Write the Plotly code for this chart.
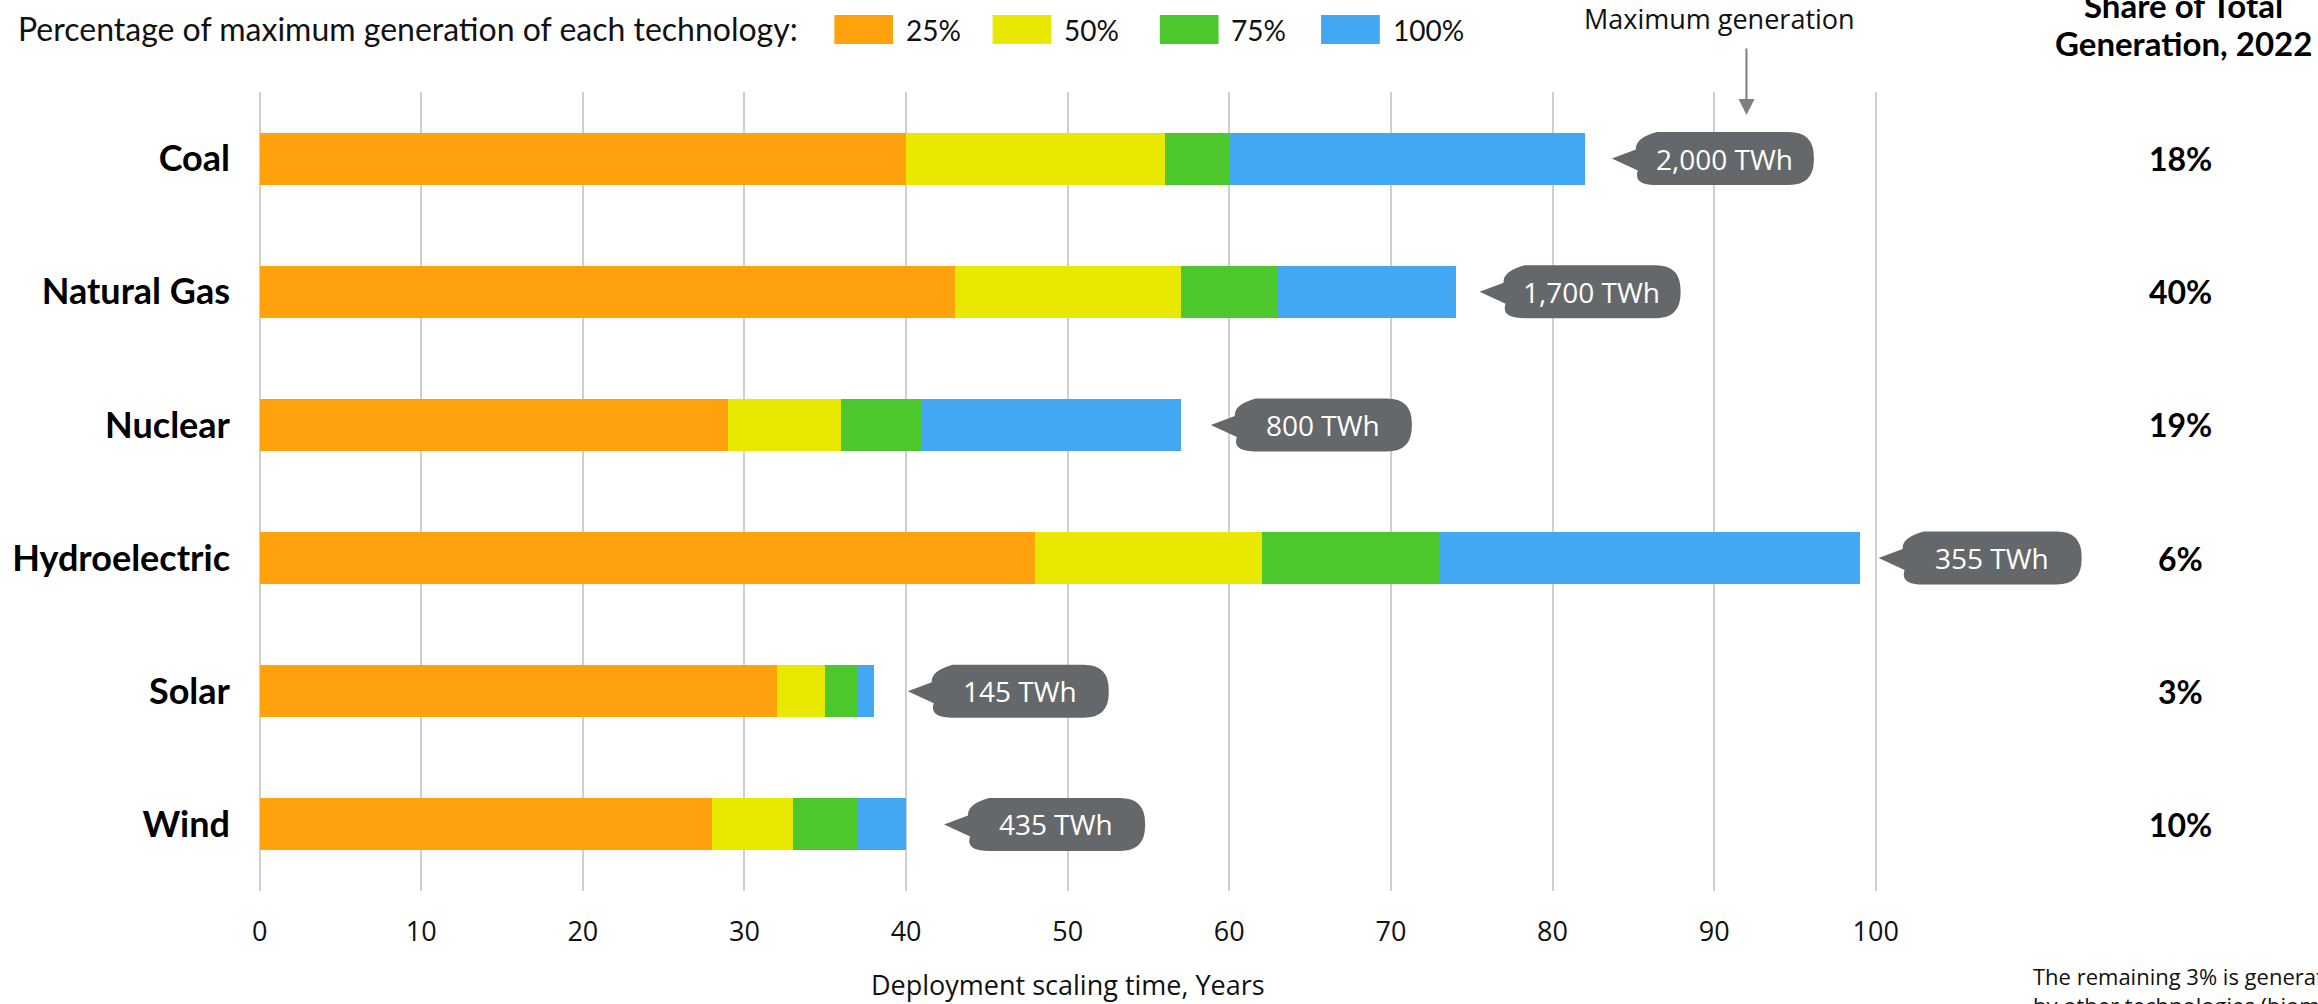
import plotly.graph_objects as go

# ---------------- data ----------------
categories = ["Coal", "Natural Gas", "Nuclear", "Hydroelectric", "Solar", "Wind"]
# years needed to reach 25 / 50 / 75 / 100 % of maximum generation
years_25 = [40, 43, 29, 48, 32, 28]
years_50 = [56, 57, 36, 62, 35, 33]
years_75 = [60, 63, 41, 73, 37, 37]
years_100 = [82, 74, 57, 99, 38, 40]
series_names = ["25%", "50%", "75%", "100%"]
max_generation = ["2,000 TWh", "1,700 TWh", "800 TWh", "355 TWh", "145 TWh", "435 TWh"]
share_2022 = ["18%", "40%", "19%", "6%", "3%", "10%"]
x_ticks = [0, 10, 20, 30, 40, 50, 60, 70, 80, 90, 100]
max_gen_marker_year = 92

# ---------------- layout constants ----------------
colors = ["#FFA20E", "#E8E800", "#4CC82D", "#42A8F3"]
bubble_color = "#64686B"
W, H = 2318, 1004
L, R, T, B = 249, 119, 92, 113
X_MIN, X_MAX = -0.1, 120
plot_w = W - L - R
plot_h = H - T - B

def px(x):
    return (x - L) / plot_w

def py(y):
    return (H - B - y) / plot_h

bubble_gap = [27, 24, 30, 19, 34, 38]      # px from bar end to bubble tip
bubble_w = [179, 178, 178, 180, 178, 178]  # px body width

cum = [years_25, years_50, years_75, years_100]
rows = list(range(len(categories)))

fig = go.Figure()
prev = [0] * len(categories)
for k, name in enumerate(series_names):
    seg = [c - p for c, p in zip(cum[k], prev)]
    fig.add_trace(go.Bar(
        y=rows, x=seg, orientation="h", name=name,
        marker=dict(color=colors[k], line=dict(width=0)),
        width=0.39, showlegend=False,
        hovertemplate=name + ": %{x}<extra></extra>",
    ))
    prev = cum[k]

shapes = []
annotations = []

def bubble_path(gap, w):
    t = gap
    bl = gap + 23
    br = bl + w
    h = 26.5
    rl = 22
    rr = 25
    return (f"M{t},0 L{bl+1},9 Q{bl},{h-6} {bl+rl},{h} "
            f"L{br-rr},{h} Q{br},{h} {br},{h-rr} L{br},{-h+rr} Q{br},{-h} {br-rr},{-h} "
            f"L{bl+rl},{-h} Q{bl-2},{-h} {bl+3},-12 Z")

for i in rows:
    end = years_100[i]
    shapes.append(dict(
        type="path", xref="x", yref="y", xsizemode="pixel", ysizemode="pixel",
        xanchor=end, yanchor=i, path=bubble_path(bubble_gap[i], bubble_w[i]),
        fillcolor=bubble_color, line=dict(width=0), layer="above",
    ))
    annotations.append(dict(
        xref="x", yref="y", x=end, y=i, xanchor="center", yanchor="middle",
        xshift=bubble_gap[i] + 23 + bubble_w[i] / 2, showarrow=False,
        text=max_generation[i],
        font=dict(family="Open Sans", size=28, color="white"),
    ))
    annotations.append(dict(
        xref="paper", yref="y", x=px(2180), y=i, xanchor="center", yanchor="middle",
        showarrow=False, text=share_2022[i],
        font=dict(family="Lato", size=32, color="black", weight=700),
    ))

# legend (manual)
annotations.append(dict(
    xref="paper", yref="paper", x=px(6), y=py(28), xanchor="left", yanchor="middle",
    showarrow=False, text="Percentage of maximum generation of each technology:",
    font=dict(family="Lato", size=32, color="#111111"),
))
sw_x = [828, 987, 1155, 1317]
for k, name in enumerate(series_names):
    shapes.append(dict(
        type="rect", xref="paper", yref="paper",
        x0=px(sw_x[k]), x1=px(sw_x[k] + 59), y0=py(44), y1=py(15),
        fillcolor=colors[k], line=dict(width=0),
    ))
    annotations.append(dict(
        xref="paper", yref="paper", x=px(sw_x[k] + 70), y=py(30),
        xanchor="left", yanchor="middle", showarrow=False, text=name,
        font=dict(family="Lato", size=28, color="#111111"),
    ))

# maximum generation marker
annotations.append(dict(
    xref="x", yref="paper", x=max_gen_marker_year, y=py(18), xanchor="center",
    yanchor="middle", xshift=-27, showarrow=False, text="Maximum generation",
    font=dict(family="Open Sans", size=27, color="#111111"),
))
annotations.append(dict(
    xref="x", yref="paper", x=max_gen_marker_year, y=py(115), text="",
    showarrow=True, ax=0, ay=-68, arrowhead=2, arrowsize=1.6, arrowwidth=2,
    arrowcolor="#7F7F7F", standoff=0,
))

# right header
annotations.append(dict(
    xref="paper", yref="paper", x=px(2183), y=py(5), xanchor="center",
    yanchor="middle", showarrow=False, text="Share of Total",
    font=dict(family="Lato", size=33, color="black", weight=700),
))
annotations.append(dict(
    xref="paper", yref="paper", x=px(2183), y=py(43), xanchor="center",
    yanchor="middle", showarrow=False, text="Generation, 2022",
    font=dict(family="Lato", size=33, color="black", weight=700),
))

# x axis title
annotations.append(dict(
    xref="x", yref="paper", x=50, y=py(984), xanchor="center", yanchor="middle",
    showarrow=False, text="Deployment scaling time, Years",
    font=dict(family="Open Sans", size=27, color="#111111"),
))

# footnote (runs off the right edge as in the original)
annotations.append(dict(
    xref="paper", yref="paper", x=px(2030), y=py(990), xanchor="left",
    yanchor="middle", align="left", showarrow=False,
    text="The remaining 3% is generated<br>by other technologies (biomass, geothermal, etc.)",
    font=dict(family="Open Sans", size=22, color="#111111"),
))

fig.update_layout(
    width=W, height=H,
    margin=dict(l=L, r=R, t=T, b=B, pad=0),
    paper_bgcolor="white", plot_bgcolor="white",
    barmode="stack", bargap=0,
    shapes=shapes, annotations=annotations,
    showlegend=False,
    xaxis=dict(
        range=[X_MIN, X_MAX], tickvals=x_ticks, ticktext=[str(v) for v in x_ticks],
        showgrid=True, gridcolor="#CFCFCF", gridwidth=1.5,
        zeroline=False, showline=False, ticks="",
        tickfont=dict(family="Open Sans", size=27, color="#111111"),
        ticklabelstandoff=22,
    ),
    yaxis=dict(
        range=[5.5, -0.5], tickvals=rows, ticktext=categories,
        showgrid=False, zeroline=False, showline=False, ticks="",
        tickfont=dict(family="Lato", size=36, color="black", weight=700),
        ticklabelstandoff=27,
    ),
)

fig.write_html("out.html")
